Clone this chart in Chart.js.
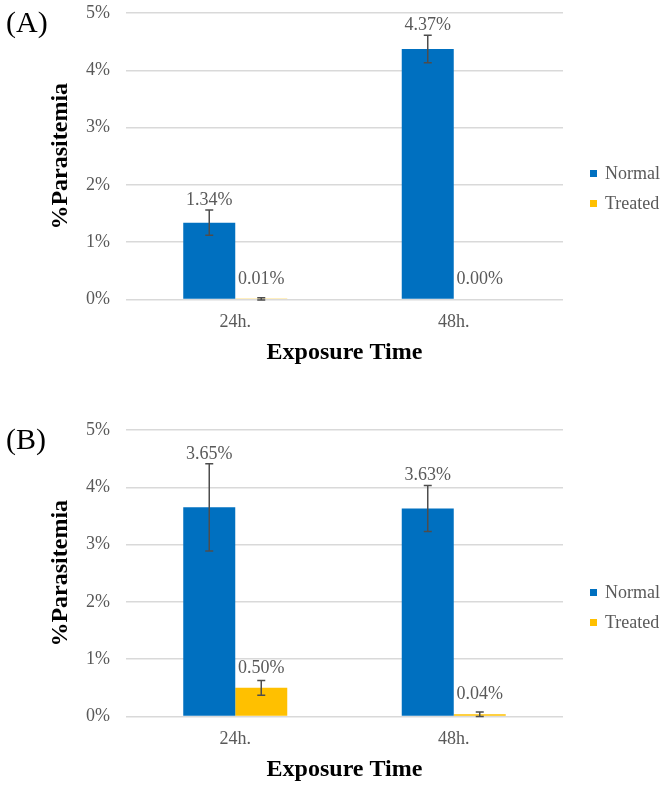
<!DOCTYPE html>
<html lang="en">
<head>
    <meta charset="UTF-8">
    <title>% Parasitemia</title>
    <script src="https://cdn.jsdelivr.net/npm/chart.js"></script>
    <style>
        body {
            margin: 0;
            background: #fff;
            overflow: hidden;
            font-family: 'Liberation Serif', 'Times New Roman', serif;
        }
        .page {
            position: relative;
            width: 666px;
            height: 786px;
        }
        .box {
            position: absolute;
            left: 0;
            width: 666px;
            height: 393px;
        }
        .tag {
            position: absolute;
            left: 6px;
            font-size: 30px;
            line-height: 30px;
            color: #000;
        }
        .legend {
            position: absolute;
            left: 590px;
            font-size: 18px;
            color: #595959;
        }
        .legend div {
            height: 30px;
            line-height: 18px;
        }
        .legend span {
            display: inline-block;
            width: 7px;
            height: 7px;
            margin-right: 8px;
            vertical-align: 2px;
        }
    </style>
</head>
<body>
    <div class="page">
        <!-- (A) -->
        <div class="box" style="top: -24px;"><canvas id="chartA"></canvas></div>
        <div class="tag" style="top: 7px;">(A)</div>
        <div class="legend" style="top: 164px;">
            <div><span style="background:#0070c0"></span>Normal</div>
            <div><span style="background:#ffc000"></span>Treated</div>
        </div>

        <!-- (B) -->
        <div class="box" style="top: 393px;"><canvas id="chartB"></canvas></div>
        <div class="tag" style="top: 424px;">(B)</div>
        <div class="legend" style="top: 583px;">
            <div><span style="background:#0070c0"></span>Normal</div>
            <div><span style="background:#ffc000"></span>Treated</div>
        </div>
    </div>

    <script>
        // данные
        const categories = ['24h.', '48h.'];

        const normalA = [1.34, 4.37];
        const treatedA = [0.01, 0.00];
        const normalErrA = [0.22, 0.24];
        const treatedErrA = [0.02, 0];

        const normalB = [3.65, 3.63];
        const treatedB = [0.50, 0.04];
        const normalErrB = [0.76, 0.40];
        const treatedErrB = [0.13, 0.04];

        const blue = '#0070c0';
        const yellow = '#ffc000';
        const serif = "'Liberation Serif', 'Times New Roman', serif";

        // усы погрешности и подписи значений
        const errorBarsPlugin = {
            id: 'errorBars',
            afterDatasetsDraw(chart) {
                const ctx = chart.ctx;
                const y = chart.scales.y;
                chart.data.datasets.forEach((ds, i) => {
                    const meta = chart.getDatasetMeta(i);
                    meta.data.forEach((bar, j) => {
                        const v = ds.data[j];
                        const e = ds.errors[j];
                        const top = y.getPixelForValue(v + e);
                        if (e > 0) {
                            const bot = y.getPixelForValue(v - e);
                            ctx.save();
                            ctx.strokeStyle = '#4d4d4d';
                            ctx.lineWidth = 1.5;
                            ctx.beginPath();
                            ctx.moveTo(bar.x, top);
                            ctx.lineTo(bar.x, bot);
                            ctx.moveTo(bar.x - 4, top);
                            ctx.lineTo(bar.x + 4, top);
                            ctx.moveTo(bar.x - 4, bot);
                            ctx.lineTo(bar.x + 4, bot);
                            ctx.stroke();
                            ctx.restore();
                        }
                        const ly = Math.min(top - 10, bar.y - 20);
                        ctx.save();
                        ctx.fillStyle = '#595959';
                        ctx.font = '18px ' + serif;
                        ctx.textAlign = 'center';
                        ctx.textBaseline = 'middle';
                        ctx.fillText(v.toFixed(2) + '%', bar.x, ly);
                        ctx.restore();
                    });
                });
            }
        };

        function makeChart(id, normal, normalErr, treated, treatedErr) {
            const ctx = document.getElementById(id).getContext('2d');
            return new Chart(ctx, {
                type: 'bar',
                data: {
                    labels: categories,
                    datasets: [{
                        label: 'Normal',
                        data: normal,
                        errors: normalErr,
                        backgroundColor: blue
                    }, {
                        label: 'Treated',
                        data: treated,
                        errors: treatedErr,
                        backgroundColor: yellow
                    }]
                },
                options: {
                    responsive: true,
                    maintainAspectRatio: false,
                    animation: false,
                    layout: {
                        padding: { top: 37, bottom: 2, left: 0, right: 103 }
                    },
                    datasets: {
                        bar: { categoryPercentage: 0.476, barPercentage: 1 }
                    },
                    plugins: {
                        legend: { display: false },
                        tooltip: { enabled: false }
                    },
                    scales: {
                        x: {
                            grid: { display: false, drawTicks: false },
                            border: { display: false },
                            ticks: {
                                color: '#595959',
                                padding: 12,
                                font: { family: serif, size: 18 }
                            },
                            title: {
                                display: true,
                                text: 'Exposure Time',
                                color: '#000',
                                padding: 0,
                                font: { family: serif, size: 24, weight: 'bold' }
                            },
                            afterFit(scale) { scale.height = 67.5; }
                        },
                        y: {
                            min: 0,
                            max: 5,
                            grid: { color: '#d9d9d9', lineWidth: 1.5, drawTicks: false },
                            border: { display: false },
                            ticks: {
                                stepSize: 1,
                                color: '#595959',
                                padding: 16,
                                font: { family: serif, size: 18 },
                                callback: v => v + '%'
                            },
                            title: {
                                display: true,
                                text: '%Parasitemia',
                                color: '#000',
                                padding: { top: 46, bottom: 0 },
                                font: { family: serif, size: 24, weight: 'bold' }
                            },
                            afterFit(scale) { scale.width = 126; }
                        }
                    }
                },
                plugins: [errorBarsPlugin]
            });
        }

        makeChart('chartA', normalA, normalErrA, treatedA, treatedErrA);
        makeChart('chartB', normalB, normalErrB, treatedB, treatedErrB);
    </script>
</body>
</html>
